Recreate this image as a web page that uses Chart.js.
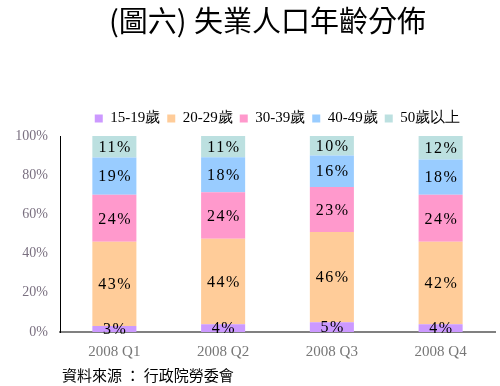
<!DOCTYPE html>
<html>
<head>
<meta charset="utf-8">
<script src="https://cdn.jsdelivr.net/npm/chart.js@4"></script>
<style>
  html, body { margin: 0; padding: 0; background: #fff; }
  #wrap { width: 500px; height: 386px; position: relative; }
</style>
</head>
<body>
<div id="wrap"><canvas id="chart" width="500" height="386"></canvas></div>
<script>
const quarters = ["2008 Q1", "2008 Q2", "2008 Q3", "2008 Q4"];
const groups = ["15-19歲", "20-29歲", "30-39歲", "40-49歲", "50歲以上"];
const age15to19 = [3, 4, 5, 4];
const age20to29 = [43, 44, 46, 42];
const age30to39 = [24, 24, 23, 24];
const age40to49 = [19, 18, 16, 18];
const age50plus = [11, 11, 10, 12];
const yTicks = [0, 20, 40, 60, 80, 100];
const colors = ["#CC99FF", "#FFCC99", "#FF99CC", "#99CCFF", "#BCE0E0"];

const series = [age15to19, age20to29, age30to39, age40to49, age50plus];
// columns are 100% stacked, so scale each quarter to its total
const totals = quarters.map((q, i) => series.reduce((s, arr) => s + arr[i], 0));

const datasets = series.map((arr, k) => ({
  label: groups[k],
  data: arr.map((v, i) => v / totals[i] * 100),
  raw: arr,
  backgroundColor: colors[k],
  borderWidth: 0,
  categoryPercentage: 1,
  barPercentage: 0.405
}));

const serif = "'Liberation Serif', 'Times New Roman', serif";
const cjk = "'Noto Sans CJK TC', 'Noto Sans CJK SC', sans-serif";

const extras = {
  id: 'extras',
  afterDatasetsDraw(chart) {
    const ctx = chart.ctx;
    ctx.save();
    ctx.fillStyle = '#000';
    ctx.font = "16px " + serif;
    ctx.letterSpacing = '1.5px';
    ctx.textAlign = 'center';
    ctx.textBaseline = 'middle';
    chart.data.datasets.forEach((ds, k) => {
      chart.getDatasetMeta(k).data.forEach((bar, i) => {
        const mid = (bar.y + bar.base) / 2;
        ctx.fillText(ds.raw[i] + '%', bar.x + 0.75, mid + 1);
      });
    });
    ctx.restore();
  },
  afterDraw(chart) {
    const ctx = chart.ctx;
    ctx.save();
    ctx.fillStyle = '#000';
    ctx.textBaseline = 'middle';
    ctx.textAlign = 'left';
    ctx.font = "29px " + cjk;
    ctx.fillText("(圖六)", 109, 21);
    ctx.fillText("失業人口年齡分佈", 194, 21);
    ctx.font = "15px " + cjk;
    ctx.fillText("資料來源 ： 行政院勞委會", 62, 375);
    ctx.restore();
  }
};

new Chart(document.getElementById('chart'), {
  type: 'bar',
  data: { labels: quarters, datasets: datasets },
  options: {
    responsive: false,
    animation: false,
    layout: { padding: { top: 104, right: 5, left: 0, bottom: 0 } },
    plugins: {
      title: { display: false },
      tooltip: { enabled: false },
      legend: {
        display: true,
        position: 'top',
        fullSize: false,
        labels: {
          boxWidth: 8,
          boxHeight: 8,
          padding: 7,
          color: '#000',
          font: { family: serif, size: 15 }
        }
      }
    },
    scales: {
      x: {
        stacked: true,
        grid: { display: false },
        border: { color: '#808080', width: 2 },
        ticks: { color: '#777', font: { family: serif, size: 15 }, padding: 3 },
        afterFit(scale) { scale.height = 54; }
      },
      y: {
        stacked: true,
        min: 0,
        max: 100,
        grid: { display: false },
        border: { color: '#000', width: 1 },
        afterBuildTicks(scale) { scale.ticks = yTicks.map(v => ({ value: v })); },
        ticks: {
          color: '#7a7080',
          font: { family: serif, size: 14 },
          padding: 4,
          callback: v => v + '%'
        },
        afterFit(scale) { scale.width = 60; }
      }
    }
  },
  plugins: [extras]
});
</script>
</body>
</html>
